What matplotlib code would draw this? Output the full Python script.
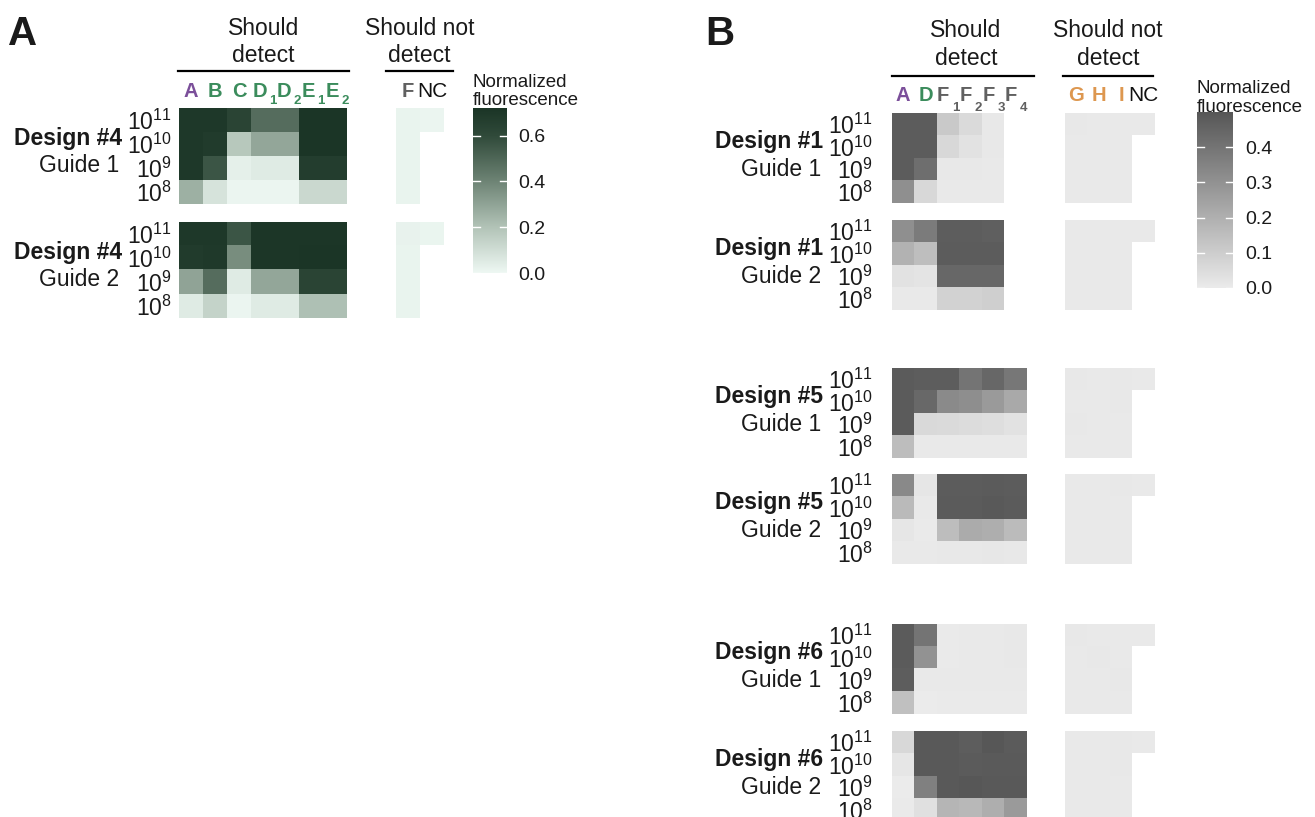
import numpy as np
import matplotlib
matplotlib.use('Agg')
import matplotlib.pyplot as plt
from matplotlib.colors import LinearSegmentedColormap, Normalize
from matplotlib.lines import Line2D

# ---------------- data ----------------
conc_labels = ['$10^{11}$', '$10^{10}$', '$10^{9}$', '$10^{8}$']

# Panel A
colsA_detect = [('A', ''), ('B', ''), ('C', ''), ('D', '1'), ('D', '2'), ('E', '1'), ('E', '2')]
colsA_detect_colors = ['purple', 'green', 'green', 'green', 'green', 'green', 'green']
colsA_not = [('F', ''), ('NC', '')]
colsA_not_colors = ['gray', 'black']
designsA = ['Design #4', 'Design #4']
guidesA = ['Guide 1', 'Guide 2']

d4_g1_detect = [[0.70, 0.70, 0.63, 0.48, 0.48, 0.72, 0.72],
                [0.70, 0.68, 0.18, 0.29, 0.29, 0.72, 0.72],
                [0.70, 0.56, 0.03, 0.05, 0.05, 0.67, 0.67],
                [0.26, 0.08, 0.01, 0.01, 0.01, 0.12, 0.12]]
d4_g1_not = [[0.015, 0.01], [0.015, np.nan], [0.015, np.nan], [0.015, np.nan]]
d4_g2_detect = [[0.70, 0.70, 0.56, 0.71, 0.71, 0.71, 0.71],
                [0.68, 0.69, 0.37, 0.71, 0.71, 0.72, 0.72],
                [0.30, 0.48, 0.05, 0.29, 0.29, 0.63, 0.63],
                [0.05, 0.14, 0.01, 0.05, 0.05, 0.21, 0.21]]
d4_g2_not = [[0.02, 0.012], [0.015, np.nan], [0.015, np.nan], [0.015, np.nan]]

# Panel B
colsB_detect = [('A', ''), ('D', ''), ('F', '1'), ('F', '2'), ('F', '3'), ('F', '4')]
colsB_detect_colors = ['purple', 'green', 'gray', 'gray', 'gray', 'gray']
colsB_not = [('G', ''), ('H', ''), ('I', ''), ('NC', '')]
colsB_not_colors = ['orange', 'orange', 'orange', 'black']
designsB = ['Design #1', 'Design #1', 'Design #5', 'Design #5', 'Design #6', 'Design #6']
guidesB = ['Guide 1', 'Guide 2', 'Guide 1', 'Guide 2', 'Guide 1', 'Guide 2']

d1_g1_detect = [[0.48, 0.48, 0.115, 0.057, 0.010, np.nan],
                [0.48, 0.48, 0.064, 0.030, 0.010, np.nan],
                [0.48, 0.42, 0.008, 0.008, 0.006, np.nan],
                [0.31, 0.064, 0.007, 0.007, 0.007, np.nan]]
d1_g2_detect = [[0.31, 0.375, 0.475, 0.475, 0.47, np.nan],
                [0.19, 0.15, 0.48, 0.48, 0.48, np.nan],
                [0.03, 0.025, 0.443, 0.443, 0.443, np.nan],
                [0.007, 0.007, 0.085, 0.085, 0.095, np.nan]]
d5_g1_detect = [[0.486, 0.476, 0.476, 0.40, 0.445, 0.39],
                [0.486, 0.44, 0.325, 0.314, 0.27, 0.22],
                [0.486, 0.06, 0.057, 0.05, 0.044, 0.03],
                [0.155, 0.005, 0.005, 0.005, 0.005, 0.004]]
d5_g2_detect = [[0.33, 0.017, 0.48, 0.48, 0.485, 0.48],
                [0.165, 0.007, 0.485, 0.485, 0.49, 0.485],
                [0.017, 0.003, 0.155, 0.216, 0.205, 0.16],
                [0.007, 0.007, 0.010, 0.010, 0.012, 0.008]]
d6_g1_detect = [[0.486, 0.40, 0.003, 0.007, 0.005, 0.010],
                [0.486, 0.30, 0.003, 0.006, 0.006, 0.008],
                [0.476, 0.007, 0.004, 0.004, 0.004, 0.004],
                [0.145, 0.0, 0.003, 0.003, 0.003, 0.003]]
d6_g2_detect = [[0.064, 0.49, 0.49, 0.476, 0.50, 0.486],
                [0.017, 0.49, 0.49, 0.485, 0.487, 0.487],
                [0.0, 0.36, 0.49, 0.50, 0.49, 0.49],
                [0.003, 0.037, 0.18, 0.17, 0.206, 0.27]]
d1_g1_not = [[0.008, 0.006, 0.006, 0.004], [0.007, 0.006, 0.005, np.nan],
             [0.006, 0.006, 0.007, np.nan], [0.006, 0.005, 0.005, np.nan]]
d1_g2_not = [[0.007, 0.006, 0.006, 0.004], [0.006, 0.006, 0.005, np.nan],
             [0.006, 0.005, 0.006, np.nan], [0.006, 0.005, 0.005, np.nan]]
d5_g1_not = [[0.008, 0.007, 0.010, 0.004], [0.006, 0.006, 0.008, np.nan],
             [0.008, 0.006, 0.006, np.nan], [0.006, 0.006, 0.006, np.nan]]
d5_g2_not = [[0.006, 0.006, 0.008, 0.004], [0.006, 0.006, 0.007, np.nan],
             [0.006, 0.006, 0.007, np.nan], [0.006, 0.006, 0.006, np.nan]]
d6_g1_not = [[0.010, 0.007, 0.007, 0.004], [0.007, 0.008, 0.007, np.nan],
             [0.007, 0.006, 0.008, np.nan], [0.006, 0.006, 0.006, np.nan]]
d6_g2_not = [[0.007, 0.007, 0.008, 0.004], [0.006, 0.006, 0.008, np.nan],
             [0.006, 0.006, 0.007, np.nan], [0.006, 0.004, 0.005, np.nan]]

blocksB_detect = [d1_g1_detect, d1_g2_detect, d5_g1_detect, d5_g2_detect, d6_g1_detect, d6_g2_detect]
blocksB_not = [d1_g1_not, d1_g2_not, d5_g1_not, d5_g2_not, d6_g1_not, d6_g2_not]

cbarA_ticks = [0.0, 0.2, 0.4, 0.6]
cbarB_ticks = [0.0, 0.1, 0.2, 0.3, 0.4]

# ---------------- style ----------------
plt.rcParams['font.family'] = ['Liberation Sans', 'DejaVu Sans']
plt.rcParams['mathtext.default'] = 'regular'

label_colors = {'purple': '#7b4f9a', 'green': '#3b8c5c', 'gray': '#606060',
                'orange': '#dd974f', 'black': '#111111'}
txt = '#1a1a1a'

vmaxA, vmaxB = 0.72, 0.50
cmapA = LinearSegmentedColormap.from_list(
    'greens', [(0.0, '#eef8f3'), (0.2 / vmaxA, '#b2c3b7'), (0.4 / vmaxA, '#6e8475'),
               (0.6 / vmaxA, '#304a3a'), (1.0, '#1b3526')])
cmapB = LinearSegmentedColormap.from_list('greys', ['#ebebeb', '#575757'])
cmapA.set_bad((1, 1, 1, 0))
cmapB.set_bad((1, 1, 1, 0))
normA = Normalize(0, vmaxA)
normB = Normalize(0, vmaxB)

W, H = 1315, 817
fig = plt.figure(figsize=(W / 100, H / 100), dpi=100)


def fy(y):
    return 1 - y / H


def ax_px(x0, y0, x1, y1):
    return fig.add_axes([x0 / W, 1 - y1 / H, (x1 - x0) / W, (y1 - y0) / H])


def ftext(x, y, s, **kw):
    kw.setdefault('color', txt)
    return fig.text(x / W, fy(y), s, **kw)


def hline(x0, x1, y):
    fig.add_artist(Line2D([x0 / W, x1 / W], [fy(y), fy(y)], color='black', lw=1.6))


def heat(x0, y0, data, cell, cmap, norm, ylabels=None, pad=0):
    data = np.array(data, dtype=float)
    nr, nc = data.shape
    ax = ax_px(x0, y0, x0 + nc * cell, y0 + nr * cell)
    ax.imshow(np.ma.masked_invalid(data), cmap=cmap, norm=norm, aspect='auto',
              interpolation='nearest', extent=(0, nc, nr, 0))
    ax.set_xlim(0, nc)
    ax.set_ylim(nr, 0)
    for s in ax.spines.values():
        s.set_visible(False)
    ax.set_xticks([])
    if ylabels is not None:
        ax.set_yticks(np.arange(nr) + 0.5, ylabels, fontsize=16.5, color=txt)
        ax.tick_params(axis='y', length=0, pad=pad)
    else:
        ax.set_yticks([])
    ax.patch.set_alpha(0)
    return ax


def cbar(x0, y0, x1, y1, cmap, vmax, ticks, pad):
    ax = ax_px(x0, y0, x1, y1)
    grad = np.linspace(0, vmax, 256).reshape(-1, 1)
    ax.imshow(grad, cmap=cmap, norm=Normalize(0, vmax), aspect='auto',
              origin='lower', extent=(0, 1, 0, vmax), interpolation='bilinear')
    ax.set_xlim(0, 1)
    ax.set_ylim(0, vmax)
    for t in ticks:
        ax.plot([0, 0.2], [t, t], color='white', lw=1.0)
        ax.plot([0.8, 1.0], [t, t], color='white', lw=1.0)
    ax.yaxis.tick_right()
    ax.set_yticks(ticks, [f'{t:.1f}' for t in ticks], fontsize=14, color=txt)
    ax.tick_params(axis='y', length=0, pad=pad)
    ax.set_xticks([])
    for s in ax.spines.values():
        s.set_visible(False)
    return ax


def col_labels(x0, cell, labels, colors, y, main_dx, sub_dx, sub_dy):
    for i, ((lab, sub), c) in enumerate(zip(labels, colors)):
        xc = x0 + (i + 0.5) * cell
        col = label_colors[c]
        if lab == 'NC':
            ftext(xc, y, lab, ha='center', va='baseline', fontsize=15,
                  family=['Liberation Sans Narrow', 'Liberation Sans'], color=col)
        elif sub:
            ftext(xc + main_dx, y, lab, ha='center', va='baseline', fontsize=14.5,
                  fontweight='bold', color=col)
            ftext(xc + sub_dx, y + sub_dy, sub, ha='left', va='baseline', fontsize=9.5,
                  fontweight='bold', color=col)
        else:
            ftext(xc, y, lab, ha='center', va='baseline', fontsize=14.5,
                  fontweight='bold', color=col)


# ---------------- Panel A ----------------
cellA = 24
xA_det, xA_not = 179, 396
topsA = [108, 222]
ftext(8, 45, 'A', fontsize=29, fontweight='bold', va='baseline')
ftext(263.5, 35, 'Should', fontsize=16.5, ha='center', va='baseline')
ftext(263.5, 62, 'detect', fontsize=16.5, ha='center', va='baseline')
ftext(419.5, 35, 'Should not', fontsize=16.5, ha='center', va='baseline')
ftext(419.5, 62, 'detect', fontsize=16.5, ha='center', va='baseline')
hline(178, 349, 71)
hline(386, 453, 71)
col_labels(xA_det, cellA, colsA_detect, colsA_detect_colors, 97, -3, 6, 7)
col_labels(xA_not, cellA, colsA_not, colsA_not_colors, 97, -3, 6, 7)

for top, det, nd, dname, gname in zip(topsA, [d4_g1_detect, d4_g2_detect],
                                      [d4_g1_not, d4_g2_not], designsA, guidesA):
    heat(xA_det, top, det, cellA, cmapA, normA, conc_labels, pad=5)
    heat(xA_not, top, nd, cellA, cmapA, normA)
    ftext(122, top + 1.55 * cellA, dname, ha='right', va='baseline', fontsize=16.5,
          fontweight='bold')
    ftext(119, top + 2.68 * cellA, gname, ha='right', va='baseline', fontsize=16.5)

cbar(473, 108, 507, 273, cmapA, vmaxA, cbarA_ticks, pad=8)
ftext(473, 87, 'Normalized', fontsize=13.5, va='baseline')
ftext(473, 105, 'fluorescence', fontsize=13.5, va='baseline')

# ---------------- Panel B ----------------
cellB = 22.5
xB_det, xB_not = 892, 1065
topsB = [113, 220, 368, 474, 624, 731]
ftext(705, 45, 'B', fontsize=29, fontweight='bold', va='baseline')
ftext(966, 37, 'Should', fontsize=16.5, ha='center', va='baseline')
ftext(966, 65, 'detect', fontsize=16.5, ha='center', va='baseline')
ftext(1108, 37, 'Should not', fontsize=16.5, ha='center', va='baseline')
ftext(1108, 65, 'detect', fontsize=16.5, ha='center', va='baseline')
hline(892, 1034, 76)
hline(1063, 1153, 76)
col_labels(xB_det, cellB, colsB_detect, colsB_detect_colors, 101, -5, 4, 10)
col_labels(xB_not, cellB, colsB_not, colsB_not_colors, 101, -5, 4, 10)

for top, det, nd, dname, gname in zip(topsB, blocksB_detect, blocksB_not,
                                      designsB, guidesB):
    heat(xB_det, top, det, cellB, cmapB, normB, conc_labels, pad=14)
    heat(xB_not, top, nd, cellB, cmapB, normB)
    ftext(823, top + 1.55 * cellB, dname, ha='right', va='baseline', fontsize=16.5,
          fontweight='bold')
    ftext(821, top + 2.78 * cellB, gname, ha='right', va='baseline', fontsize=16.5)

cbar(1197, 112, 1233, 288, cmapB, vmaxB, cbarB_ticks, pad=9)
ftext(1197, 93, 'Normalized', fontsize=13.5, va='baseline')
ftext(1197, 112, 'fluorescence', fontsize=13.5, va='baseline')

fig.savefig('out.png', dpi=100)
